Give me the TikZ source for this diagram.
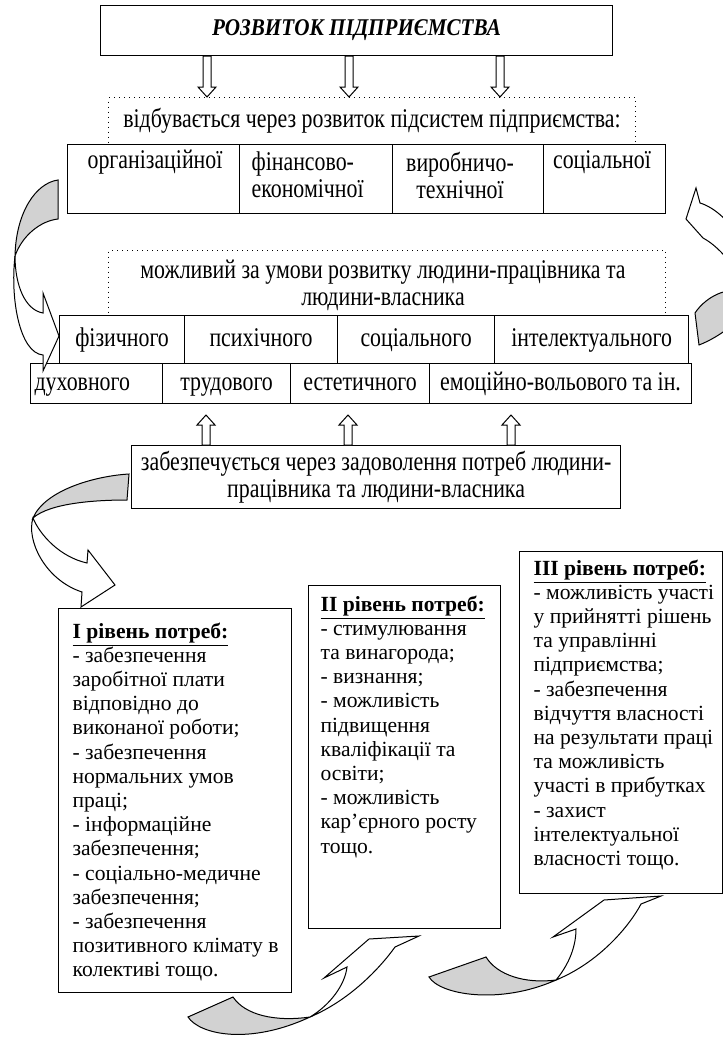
\documentclass[tikz,border=0pt]{standalone}
\usepackage{fontspec}
\setmainfont{Liberation Serif}
\newfontfamily\narrowfont[FakeStretch=0.81]{Liberation Serif}
\newfontfamily\headfont[FakeStretch=0.88]{Liberation Serif}
\usetikzlibrary{calc}

\begin{document}
\begin{tikzpicture}[x=0.5pt, y=-0.5pt, line width=0.6pt,
  block/.style={rectangle, draw, anchor=north west, inner sep=0pt},
  dotbox/.style={rectangle, draw, dotted, line width=0.5pt, anchor=north west, inner sep=0pt},
  upper/.style={font=\narrowfont\fontsize{13.5}{13.5}\selectfont, align=center, inner sep=0pt},
  oneline/.style={upper, text height=9.5pt, text depth=3pt},
  listtext/.style={font=\fontsize{10.8}{12.1}\selectfont, align=left, anchor=north west, inner sep=0pt},
  hollow/.style={fill=white, line width=0.5pt, to path={let \p1=(\tikztostart), \p2=(\tikztotarget), \n1={(\y2>\y1)*2-1} in
    ({\x1-2pt},\y1) -- ({\x1-2pt},{\y2-(\n1)*5pt}) -- ({\x1-4.5pt},{\y2-(\n1)*5pt}) -- (\x1,\y2)
    -- ({\x1+4.5pt},{\y2-(\n1)*5pt}) -- ({\x1+2pt},{\y2-(\n1)*5pt}) -- ({\x1+2pt},\y1) -- cycle}},
  back/.style={fill=gray!35, draw, line width=0.5pt},
  front/.style={fill=white, draw, line width=0.5pt}]

  \fill[white] (0,0) rectangle (723,1039);
  \useasboundingbox (0,0) rectangle (723,1039);

  % top part
  \node[block, minimum width=256pt, minimum height=25pt, font=\headfont\fontsize{12}{14}\selectfont\bfseries\itshape] (title) at (100,5) {РОЗВИТОК ПІДПРИЄМСТВА};

  \node[dotbox, minimum width=263.5pt, minimum height=23.5pt] (via) at (108,97) {};
  \node[upper] (viatext) at (372,121) {відбувається через розвиток підсистем підприємства:};

  \node[block, minimum width=86pt, minimum height=34.5pt] (org) at (67,144) {};
  \node[block, minimum width=76.5pt, minimum height=34.5pt] (fin) at (239,144) {};
  \node[block, minimum width=75.5pt, minimum height=34.5pt] (vyr) at (392,144) {};
  \node[block, minimum width=61pt, minimum height=34.5pt] (soc) at (543,144) {};
  \node[oneline] (orgtext) at (155,162) {організаційної};
  \node[upper, align=left, anchor=west] (fintext) at (251,175) {фінансово-\\економічної};
  \node[upper] (vyrtext) at (460,175) {виробничо-\\технічної};
  \node[oneline] (soctext) at (602,162) {соціальної};

  \coordinate (k1) at (207,0);
  \coordinate (k2) at (349,0);
  \coordinate (k3) at (500,0);
  \draw[hollow] (title.south -| k1) to (via.north -| k1);
  \draw[hollow] (title.south -| k2) to (via.north -| k2);
  \draw[hollow] (title.south -| k3) to (via.north -| k3);

  % middle part
  \node[dotbox, minimum width=278.5pt, minimum height=32.5pt] (cond) at (108,250) {};
  \node[upper] (condtext) at (383,285.5) {можливий за умови розвитку людини-працівника та\\людини-власника};

  \node[block, oneline, minimum width=62.5pt, minimum height=24pt] (fiz) at (59,315) {фізичного};
  \node[block, oneline, minimum width=76.5pt, minimum height=24pt] (psy) at (184,315) {психічного};
  \node[block, oneline, minimum width=78.5pt, minimum height=24pt] (socl) at (337,315) {соціального};
  \node[block, oneline, minimum width=97pt, minimum height=24pt] (intl) at (494,315) {інтелектуального};

  \node[block, oneline, minimum width=66pt, minimum height=20pt, text width=62pt, align=left] (duh) at (30,363) {духовного};
  \node[block, oneline, minimum width=64pt, minimum height=20pt] (trud) at (162,363) {трудового};
  \node[block, oneline, minimum width=69.5pt, minimum height=20pt] (est) at (290,363) {естетичного};
  \node[block, oneline, minimum width=131pt, minimum height=20pt] (emo) at (429,363) {емоційно-вольового та ін.};

  \node[block, upper, minimum width=244.5pt, minimum height=31.5pt] (satisfy) at (131,445)
    {забезпечується через задоволення потреб людини-\\працівника та людини-власника};

  \coordinate (u1) at (206,415);
  \coordinate (u2) at (348,415);
  \coordinate (u3) at (511,415);
  \draw[hollow] (satisfy.north -| u1) to (u1);
  \draw[hollow] (satisfy.north -| u2) to (u2);
  \draw[hollow] (satisfy.north -| u3) to (u3);

  % levels of needs
  \node[block, minimum width=116.5pt, minimum height=192pt] (lev1) at (58,608) {};
  \node[block, minimum width=96pt, minimum height=171.5pt] (lev2) at (308,585) {};
  \node[block, minimum width=101.5pt, minimum height=171pt] (lev3) at (519,551) {};

  \node[listtext] (lev1text) at ([xshift=7pt, yshift=-7pt]lev1.north west)
    {\underline{\textbf{I рівень потреб:}}\\
     - забезпечення\\
     заробітної плати\\
     відповідно до\\
     виконаної роботи;\\
     - забезпечення\\
     нормальних умов\\
     праці;\\
     - інформаційне\\
     забезпечення;\\
     - соціально-медичне\\
     забезпечення;\\
     - забезпечення\\
     позитивного клімату в\\
     колективі тощо.};
  \node[listtext] (lev2text) at ([xshift=6pt, yshift=-5pt]lev2.north west)
    {\underline{\textbf{II рівень потреб:}}\\
     - стимулювання\\
     та винагорода;\\
     - визнання;\\
     - можливість\\
     підвищення\\
     кваліфікації та\\
     освіти;\\
     - можливість\\
     кар’єрного росту\\
     тощо.};
  \node[listtext] (lev3text) at ([xshift=7pt, yshift=-4pt]lev3.north west)
    {\underline{\textbf{III рівень потреб:}}\\
     - можливість участі\\
     у прийнятті рішень\\
     та управлінні\\
     підприємства;\\
     - забезпечення\\
     відчуття власності\\
     на результати праці\\
     та можливість\\
     участі в прибутках\\
     - захист\\
     інтелектуальної\\
     власності тощо.};

  % curved arrows
  \draw[back] (58,180) .. controls (36,183) and (16,212) .. (15,256) .. controls (22,236) and (40,221) .. (58,219) -- cycle;
  \draw[front] (15,256) .. controls (15,285) and (25,310) .. (43,313) -- (43,293) -- (59,336) -- (43,371) -- (43,355) .. controls (20,353) and (10,300) .. (15,256) -- cycle;

  \begin{scope}
    \clip (0,0) rectangle (723,1039);
    \draw[back] (695,313) .. controls (706,296) and (735,280) .. (752,300) .. controls (740,325) and (712,340) .. (699,345) -- cycle;
    \draw[front] (752,300) .. controls (742,275) and (722,248) .. (703,238) -- (686,219) -- (696,188) -- (700,203) .. controls (730,212) and (762,262) .. (752,300) -- cycle;
  \end{scope}

  \draw[back] (129,474) .. controls (95,476) and (45,490) .. (33,518) .. controls (50,503) and (95,500) .. (127,500) -- cycle;
  \draw[front] (33,518) .. controls (40,535) and (60,557) .. (87,563) -- (88,550) -- (115,585) -- (81,607) -- (82,592) .. controls (45,580) and (26,540) .. (33,518) -- cycle;

  \draw[back] (233,997) .. controls (245,1015) and (275,1022) .. (310,1017) .. controls (250,1045) and (200,1035) .. (188,1017) -- cycle;
  \draw[front] (310,1017) .. controls (330,1005) and (345,985) .. (347,967) -- (324,978) -- (369,939) -- (419,936) -- (395,947) .. controls (380,968) and (350,1000) .. (310,1017) -- cycle;

  \draw[back] (486,957) .. controls (497,975) and (525,984) .. (556,980) .. controls (500,1005) and (440,995) .. (429,977) -- cycle;
  \draw[front] (556,980) .. controls (566,968) and (576,950) .. (576,929) -- (553,937) -- (604,900) -- (661,896) -- (641,904) .. controls (630,925) and (600,962) .. (556,980) -- cycle;
\end{tikzpicture}
\end{document}
